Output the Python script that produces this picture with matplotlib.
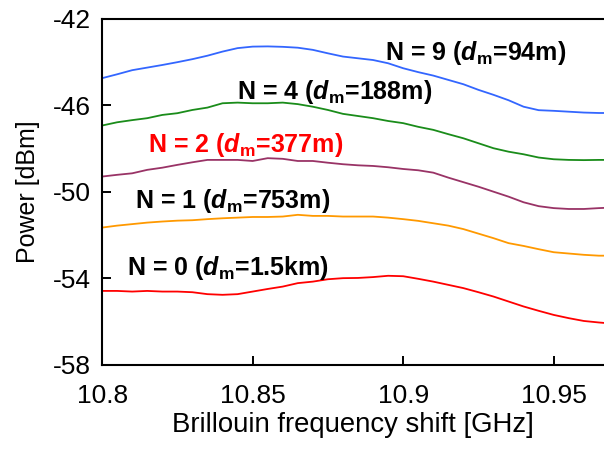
import matplotlib
matplotlib.use("Agg")
import matplotlib.pyplot as plt

plt.rcParams['font.family'] = ['Liberation Sans', 'DejaVu Sans']
plt.rcParams['axes.unicode_minus'] = False
plt.rcParams['mathtext.fontset'] = 'custom'
plt.rcParams['mathtext.rm'] = 'Liberation Sans'
plt.rcParams['mathtext.bf'] = 'Liberation Sans:bold'
plt.rcParams['mathtext.bfit'] = 'Liberation Sans:italic:bold'
plt.rcParams['mathtext.it'] = 'Liberation Sans:italic'

# frequency grid [GHz]
freq = [10.800, 10.805, 10.810, 10.815, 10.820, 10.825, 10.830, 10.835, 10.840,
        10.845, 10.850, 10.855, 10.860, 10.865, 10.870, 10.875, 10.880, 10.885,
        10.890, 10.895, 10.900, 10.905, 10.910, 10.915, 10.920, 10.925, 10.930,
        10.935, 10.940, 10.945, 10.950, 10.955, 10.960, 10.965, 10.9667]

# power [dBm]
p_n9 = [-44.74, -44.56, -44.37, -44.25, -44.13, -44.00, -43.86, -43.70, -43.51,
        -43.35, -43.28, -43.27, -43.29, -43.33, -43.43, -43.59, -43.74, -43.82,
        -43.90, -44.05, -44.28, -44.46, -44.62, -44.82, -45.02, -45.28, -45.51,
        -45.76, -46.06, -46.22, -46.25, -46.29, -46.33, -46.35, -46.35]
p_n4 = [-46.93, -46.78, -46.68, -46.59, -46.44, -46.36, -46.21, -46.10, -45.90,
        -45.87, -45.90, -45.90, -45.87, -45.94, -46.06, -46.21, -46.39, -46.49,
        -46.59, -46.72, -46.82, -46.99, -47.13, -47.33, -47.52, -47.75, -47.98,
        -48.14, -48.26, -48.41, -48.49, -48.52, -48.53, -48.52, -48.52]
p_n2 = [-49.29, -49.21, -49.14, -48.98, -48.88, -48.75, -48.63, -48.52, -48.52,
        -48.52, -48.57, -48.44, -48.47, -48.57, -48.57, -48.65, -48.72, -48.77,
        -48.80, -48.86, -48.94, -49.00, -49.11, -49.34, -49.55, -49.76, -49.99,
        -50.22, -50.48, -50.66, -50.75, -50.79, -50.79, -50.75, -50.74]
p_n1 = [-51.65, -51.56, -51.49, -51.42, -51.37, -51.33, -51.31, -51.26, -51.22,
        -51.19, -51.16, -51.16, -51.14, -51.06, -51.11, -51.11, -51.14, -51.14,
        -51.14, -51.19, -51.26, -51.34, -51.45, -51.56, -51.72, -51.93, -52.14,
        -52.37, -52.50, -52.65, -52.79, -52.85, -52.91, -52.95, -52.95]
p_n0 = [-54.58, -54.58, -54.61, -54.58, -54.61, -54.61, -54.64, -54.73, -54.76,
        -54.73, -54.61, -54.49, -54.38, -54.22, -54.15, -54.04, -53.99, -53.98,
        -53.94, -53.88, -53.90, -54.02, -54.15, -54.30, -54.45, -54.64, -54.84,
        -55.07, -55.30, -55.50, -55.69, -55.84, -55.97, -56.04, -56.06]

labels = [r'N = 9 ($\mathbfit{d}_\mathbf{m}$=94m)',
          r'N = 4 ($\mathbfit{d}_\mathbf{m}$=188m)',
          r'N = 2 ($\mathbfit{d}_\mathbf{m}$=377m)',
          r'N = 1 ($\mathbfit{d}_\mathbf{m}$=753m)',
          r'N = 0 ($\mathbfit{d}_\mathbf{m}$=1.5km)']
label_x = [10.8939, 10.8447, 10.8154, 10.8109, 10.8082]
label_y = [-43.90, -45.71, -48.14, -50.75, -53.84]

xticks = [10.8, 10.85, 10.9, 10.95]
yticks = [-58, -54, -50, -46, -42]

series = [p_n9, p_n4, p_n2, p_n1, p_n0]
colors = ['#3366ff', '#1a8c1a', '#993366', '#ff9900', '#ff0000']
text_colors = ['black', 'black', '#ff0000', 'black', 'black']

fig = plt.figure(figsize=(6.04, 4.51), dpi=100)
ax = fig.add_axes([0.169, 0.191, 0.831, 0.767])

for p, c in zip(series, colors):
    ax.plot(freq, p, color=c, lw=1.3)

for t, x, y, c in zip(labels, label_x, label_y, text_colors):
    ax.text(x, y, t, color=c, fontsize=18, fontweight='bold', ha='left', va='baseline')

ax.set_xlim(10.8, 10.9667)
ax.set_ylim(-58, -42)
ax.set_xticks(xticks)
ax.set_xticklabels(['10.8', '10.85', '10.9', '10.95'])
ax.set_yticks(yticks)
ax.tick_params(axis='both', direction='in', length=6.5, width=1.4, labelsize=19)
ax.tick_params(axis='x', pad=14)
ax.tick_params(axis='y', pad=8)
ax.spines['right'].set_visible(False)
for s in ['left', 'top', 'bottom']:
    ax.spines[s].set_linewidth(1.5)

ax.set_xlabel('Brillouin frequency shift [GHz]', fontsize=19.8, labelpad=3)
ax.set_ylabel('Power [dBm]', fontsize=18, labelpad=9)

fig.savefig('out.png', dpi=100)
